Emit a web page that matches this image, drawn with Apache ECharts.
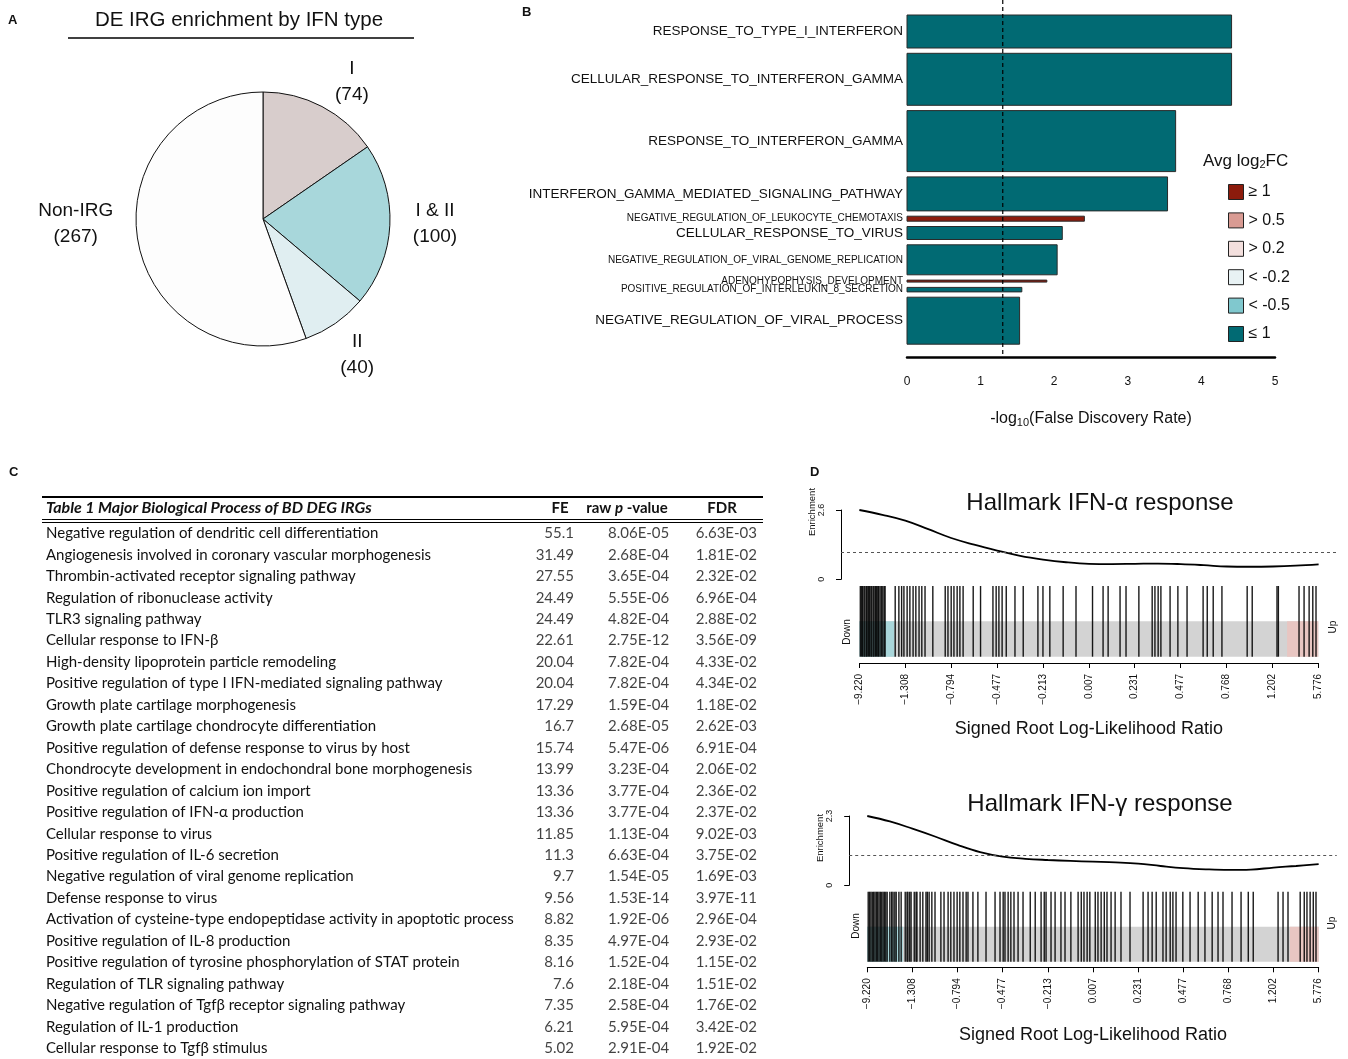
<!DOCTYPE html>
<html>
<head>
<meta charset="utf-8">
<script src="https://cdn.jsdelivr.net/npm/echarts@6/dist/echarts.min.js"></script>
<style>
  html, body { margin: 0; padding: 0; background: #ffffff; }
  #chart { width: 1348px; height: 1059px; }
</style>
</head>
<body>
<div id="chart"></div>
<script>
// ---------- A: DE IRGs split by interferon type ----------
const ifnTypes = ['I', 'I & II', 'II', 'Non-IRG'];
const ifnCounts = [74, 100, 40, 267];

// ---------- B: GO terms, -log10(FDR), bar thickness (overlap size), avg log2FC class ----------
const goTerms = [
  'RESPONSE_TO_TYPE_I_INTERFERON',
  'CELLULAR_RESPONSE_TO_INTERFERON_GAMMA',
  'RESPONSE_TO_INTERFERON_GAMMA',
  'INTERFERON_GAMMA_MEDIATED_SIGNALING_PATHWAY',
  'NEGATIVE_REGULATION_OF_LEUKOCYTE_CHEMOTAXIS',
  'CELLULAR_RESPONSE_TO_VIRUS',
  'NEGATIVE_REGULATION_OF_VIRAL_GENOME_REPLICATION',
  'ADENOHYPOPHYSIS_DEVELOPMENT',
  'POSITIVE_REGULATION_OF_INTERLEUKIN_8_SECRETION',
  'NEGATIVE_REGULATION_OF_VIRAL_PROCESS'
];
const goNegLog10FDR = [4.41, 4.41, 3.65, 3.54, 2.41, 2.11, 2.04, 1.90, 1.56, 1.53];
const goOverlapSize = [33, 52, 61, 34, 5, 13, 30, 2, 4.5, 47];
const goFcClass = ['≤ 1', '≤ 1', '≤ 1', '≤ 1', '≥ 1', '≤ 1', '≤ 1', '≥ 1', '≤ 1', '≤ 1'];
const fcClasses = ['≥ 1', '> 0.5', '> 0.2', '< -0.2', '< -0.5', '≤ 1'];
const fdrCutoff = 0.05;
const fdrTicks = [0, 1, 2, 3, 4, 5];

// ---------- C: Table 1 ----------
const processNames = [
  'Negative regulation of dendritic cell differentiation',
  'Angiogenesis involved in coronary vascular morphogenesis',
  'Thrombin-activated receptor signaling pathway',
  'Regulation of ribonuclease activity',
  'TLR3 signaling pathway',
  'Cellular response to IFN-β',
  'High-density lipoprotein particle remodeling',
  'Positive regulation of type I IFN-mediated signaling pathway',
  'Growth plate cartilage morphogenesis',
  'Growth plate cartilage chondrocyte differentiation',
  'Positive regulation of defense response to virus by host',
  'Chondrocyte development in endochondral bone morphogenesis',
  'Positive regulation of calcium ion import',
  'Positive regulation of IFN-α production',
  'Cellular response to virus',
  'Positive regulation of IL-6 secretion',
  'Negative regulation of viral genome replication',
  'Defense response to virus',
  'Activation of cysteine-type endopeptidase activity in apoptotic process',
  'Positive regulation of IL-8 production',
  'Positive regulation of tyrosine phosphorylation of STAT protein',
  'Regulation of TLR signaling pathway',
  'Negative regulation of Tgfβ receptor signaling pathway',
  'Regulation of IL-1 production',
  'Cellular response to Tgfβ stimulus'
];
const foldEnrichment = [55.1, 31.49, 27.55, 24.49, 24.49, 22.61, 20.04, 20.04, 17.29, 16.7, 15.74, 13.99,
  13.36, 13.36, 11.85, 11.3, 9.7, 9.56, 8.82, 8.35, 8.16, 7.6, 7.35, 6.21, 5.02];
const rawPValue = [8.06e-5, 2.68e-4, 3.65e-4, 5.55e-6, 4.82e-4, 2.75e-12, 7.82e-4, 7.82e-4, 1.59e-4, 2.68e-5,
  5.47e-6, 3.23e-4, 3.77e-4, 3.77e-4, 1.13e-4, 6.63e-4, 1.54e-5, 1.53e-14, 1.92e-6, 4.97e-4, 1.52e-4,
  2.18e-4, 2.58e-4, 5.95e-4, 2.91e-4];
const fdrValue = [6.63e-3, 1.81e-2, 2.32e-2, 6.96e-4, 2.88e-2, 3.56e-9, 4.33e-2, 4.34e-2, 1.18e-2, 2.62e-3,
  6.91e-4, 2.06e-2, 2.36e-2, 2.37e-2, 9.02e-3, 3.75e-2, 1.69e-3, 3.97e-11, 2.96e-4, 2.93e-2, 1.15e-2,
  1.51e-2, 1.76e-2, 3.42e-2, 1.92e-2];

// ---------- D: barcode plots (x = percent rank of signed root LR statistic) ----------
const rankTickLabels = ['\u22129.220', '\u22121.308', '\u22120.794', '\u22120.477', '\u22120.213',
  '0.007', '0.231', '0.477', '0.768', '1.202', '5.776'];

const alphaEnrichment = [[0, 2.60], [5, 2.42], [10, 2.20], [15, 1.88], [20, 1.55], [25, 1.30], [30, 1.08],
  [35, 0.88], [40, 0.74], [45, 0.64], [50, 0.58], [55, 0.57], [60, 0.58], [65, 0.59], [70, 0.57],
  [75, 0.53], [80, 0.48], [85, 0.47], [90, 0.48], [95, 0.51], [100, 0.56]];
const alphaGeneRanks = [0.2, 0.5, 0.7, 1.0, 1.2, 1.5, 1.7, 2.0, 2.2, 2.5, 2.7, 3.0, 3.2, 3.5, 3.7, 4.0,
  4.2, 4.5, 4.8, 5.1, 5.4, 5.6, 7.8, 8.6, 9.2, 9.7, 10.4, 11.0, 11.7, 12.3, 13.0, 13.6, 14.3, 16.0,
  18.7, 19.3, 20.0, 20.6, 21.3, 21.9, 22.6, 24.8, 26.4, 29.1, 29.8, 30.4, 31.1, 32.0, 33.9, 35.7, 38.9,
  40.0, 41.5, 44.4, 47.2, 50.8, 53.1, 54.2, 56.8, 58.1, 60.9, 63.8, 64.4, 65.1, 65.7, 67.7, 69.4, 71.4,
  74.9, 75.8, 77.1, 79.0, 84.5, 85.6, 91.0, 91.3, 95.8, 96.9, 98.0, 98.8, 99.5];
const alphaDownEnd = 7.6;
const alphaUpStart = 93.2;
const alphaMax = 2.6;

const gammaEnrichment = [[0, 2.30], [5, 2.12], [10, 1.88], [15, 1.62], [20, 1.34], [25, 1.10], [30, 0.95],
  [35, 0.88], [40, 0.84], [45, 0.81], [50, 0.785], [55, 0.76], [60, 0.72], [65, 0.64], [70, 0.57],
  [75, 0.53], [80, 0.51], [85, 0.52], [90, 0.59], [95, 0.64], [100, 0.70]];
const gammaGeneRanks = [0.2, 0.5, 0.8, 1.1, 1.4, 1.7, 2.0, 2.3, 2.6, 2.9, 3.2, 3.5, 3.8, 4.1, 4.4, 5.0,
  5.4, 5.7, 6.1, 6.4, 7.0, 7.5, 8.4, 8.8, 9.0, 9.4, 9.7, 10.4, 10.8, 11.0, 11.7, 12.3, 13.0, 13.3, 13.7,
  14.3, 15.0, 16.3, 17.0, 17.9, 18.5, 19.2, 19.9, 20.5, 21.2, 21.9, 22.3, 23.4, 24.5, 26.3, 28.3, 29.4,
  30.1, 30.5, 31.2, 31.8, 32.5, 33.4, 34.5, 36.1, 37.2, 38.5, 39.2, 39.6, 40.7, 41.6, 42.9, 43.8, 45.1,
  46.7, 47.4, 48.0, 48.7, 49.3, 50.5, 51.1, 51.8, 52.5, 53.1, 54.0, 54.9, 56.2, 58.2, 61.1, 62.2, 63.1,
  64.0, 65.5, 66.2, 67.1, 67.7, 68.4, 69.9, 71.5, 73.3, 74.8, 76.4, 77.7, 78.8, 80.8, 82.8, 84.4, 85.5,
  91.0, 92.1, 93.2, 95.9, 96.8, 97.4, 98.1, 98.8, 99.4];
const gammaDownEnd = 7.9;
const gammaUpStart = 93.6;
const gammaMax = 2.3;

// ---------- styling ----------
const SANS = '"Liberation Sans", Arial, Helvetica, sans-serif';
const TABLE_FONT = 'Lato, "Open Sans", sans-serif';
const INK = '#111111';
const fcColors = {
  '≥ 1': '#8c1b0c', '> 0.5': '#d99b93', '> 0.2': '#f3dfdd',
  '< -0.2': '#e8f2f4', '< -0.5': '#80c8ce', '≤ 1': '#016a73'
};
const pieColors = ['#d8cdcc', '#a8d7db', '#e0eef1', '#fdfdfd'];
const smallTermLabels = new Set([
  'NEGATIVE_REGULATION_OF_LEUKOCYTE_CHEMOTAXIS',
  'NEGATIVE_REGULATION_OF_VIRAL_GENOME_REPLICATION',
  'ADENOHYPOPHYSIS_DEVELOPMENT',
  'POSITIVE_REGULATION_OF_INTERLEUKIN_8_SECRETION'
]);
const pieCenter = [263, 219];
const pieRadius = 127;
const barGap = 5.3;          // spacing between bars, in bar-thickness units
const tableCols = { fe: 0.7426, p: 0.8766, fdr: 1.0 };

// ---------- helpers ----------
function sci(v) {
  const parts = v.toExponential(2).split('e');
  const e = parseInt(parts[1], 10);
  return parts[0] + 'E' + (e < 0 ? '-' : '+') + String(Math.abs(e)).padStart(2, '0');
}

// bar spans stacked from the top with a fixed gap
const barSpans = [];
(function () {
  let cursor = 0;
  goOverlapSize.forEach(function (s) {
    barSpans.push([cursor, cursor + s]);
    cursor += s + barGap;
  });
})();
const barTotal = barSpans[barSpans.length - 1][1];

const pieTotal = ifnCounts.reduce((a, b) => a + b, 0);

function barSeries(cls) {
  const data = [];
  goTerms.forEach(function (t, i) {
    if (goFcClass[i] === cls) data.push([goNegLog10FDR[i], barSpans[i][0], barSpans[i][1], i]);
  });
  return {
    type: 'custom', name: cls, xAxisIndex: 0, yAxisIndex: 0, data: data,
    itemStyle: { color: fcColors[cls] },
    encode: { x: 0, y: [1, 2] },
    renderItem: function (params, api) {
      const p0 = api.coord([0, api.value(1)]);
      const p1 = api.coord([api.value(0), api.value(2)]);
      const term = goTerms[api.value(3)];
      const small = smallTermLabels.has(term);
      return {
        type: 'group',
        children: [
          {
            type: 'rect',
            shape: { x: p0[0], y: p0[1], width: p1[0] - p0[0], height: p1[1] - p0[1] },
            style: { fill: fcColors[cls], stroke: '#2a2a2a', lineWidth: 1 }
          },
          {
            type: 'text',
            x: p0[0] - 4, y: (p0[1] + p1[1]) / 2,
            style: {
              text: term, align: 'right', verticalAlign: 'middle',
              fontFamily: SANS, fontSize: small ? 10 : 13.5, fill: INK
            }
          }
        ]
      };
    }
  };
}

function bandSeries(xi, yi, downEnd, upStart) {
  return {
    type: 'custom', xAxisIndex: xi, yAxisIndex: yi, silent: true,
    data: [[0, 100, 0], [0, downEnd, 1], [upStart, 100, 2]],
    encode: { x: [0, 1] },
    renderItem: function (params, api) {
      const a = api.coord([api.value(0), 0.5]);
      const b = api.coord([api.value(1), 0]);
      const fill = ['#d3d3d3', '#a9d6da', '#e8c6c2'][api.value(2)];
      return { type: 'rect', shape: { x: a[0], y: a[1], width: b[0] - a[0], height: b[1] - a[1] }, style: { fill: fill } };
    },
    z: 1
  };
}

function barcodeSeries(xi, yi, ranks) {
  return {
    type: 'custom', xAxisIndex: xi, yAxisIndex: yi, silent: true,
    data: ranks.map(r => [r]),
    encode: { x: 0 },
    renderItem: function (params, api) {
      const top = api.coord([api.value(0), 1]);
      const bot = api.coord([api.value(0), 0]);
      return {
        type: 'line',
        shape: { x1: top[0], y1: top[1], x2: bot[0], y2: bot[1] },
        style: { stroke: 'rgba(0,0,0,0.9)', lineWidth: 1.4 }
      };
    },
    z: 2
  };
}

function curveSeries(xi, yi, pts) {
  return {
    type: 'line', xAxisIndex: xi, yAxisIndex: yi, data: pts, smooth: 0.4,
    showSymbol: false, silent: true,
    lineStyle: { color: '#000', width: 1.8 },
    markLine: {
      silent: true, symbol: 'none', label: { show: false },
      lineStyle: { color: '#555', type: [3, 3], width: 1.2 },
      data: [{ yAxis: 1 }]
    }
  };
}

function tableColumn(anchor, formatter) {
  return {
    type: 'scatter', xAxisIndex: 5, yAxisIndex: 5, symbolSize: 0, silent: true,
    data: processNames.map((n, i) => [anchor, i]),
    label: {
      show: true, position: 'left', distance: 0,
      fontFamily: TABLE_FONT, fontSize: 15, color: INK,
      formatter: p => formatter(p.dataIndex)
    }
  };
}

function enrichmentAxis(gridIndex, maxVal) {
  return {
    gridIndex: gridIndex, type: 'value', min: 0, max: maxVal, interval: maxVal,
    axisLine: { show: true, onZero: false, lineStyle: { color: '#000', width: 1 } },
    axisTick: { show: true, length: 5, lineStyle: { color: '#000' } },
    splitLine: { show: false },
    axisLabel: { rotate: 90, fontSize: 9, margin: 15, color: INK, fontFamily: SANS }
  };
}

function rankAxis(gridIndex, offset, gap) {
  return {
    gridIndex: gridIndex, type: 'value', min: 0, max: 100, interval: 10, offset: offset,
    axisLine: { show: true, onZero: false, lineStyle: { color: '#000', width: 1 } },
    axisTick: { show: true, length: 5, lineStyle: { color: '#000' } },
    splitLine: { show: false },
    axisLabel: { rotate: 90, fontSize: 10, margin: 11, color: INK, fontFamily: SANS,
      formatter: v => rankTickLabels[Math.round(v / 10)] },
    name: 'Signed Root Log-Likelihood Ratio', nameLocation: 'middle', nameGap: gap,
    nameTextStyle: { fontSize: 18, color: INK, fontFamily: SANS }
  };
}

const option = {
  animation: false,
  backgroundColor: '#ffffff',
  textStyle: { fontFamily: SANS },
  grid: [
    { left: 907, top: 0, width: 368, height: 357 },              // B bars
    { left: 841, top: 510, width: 496, height: 69.3 },           // D alpha curve
    { left: 859.4, top: 586, width: 458.9, height: 70.7 },       // D alpha barcode
    { left: 849.2, top: 816, width: 487.5, height: 69.3 },       // D gamma curve
    { left: 867.3, top: 891.7, width: 451.4, height: 70 },       // D gamma barcode
    { left: 46, top: 522.6, width: 711, height: 537.5 }          // C table body
  ],
  xAxis: [
    {
      gridIndex: 0, type: 'value', min: 0, max: 5, interval: 1,
      axisLine: { show: true, onZero: false, lineStyle: { color: '#000', width: 2.5 } },
      axisTick: { show: false }, splitLine: { show: false },
      axisLabel: { margin: 19, fontSize: 12, color: INK, fontFamily: SANS,
        formatter: v => String(fdrTicks[v]) },
      name: '-log{s|10}(False Discovery Rate)', nameLocation: 'middle', nameGap: 52,
      nameTextStyle: { fontSize: 16, color: INK, fontFamily: SANS,
        rich: { s: { fontSize: 11, verticalAlign: 'bottom', padding: [8, 0, 0, 0], fontFamily: SANS, color: INK } } }
    },
    { gridIndex: 1, type: 'value', min: -4, max: 104, show: false },
    rankAxis(2, 6.3, 57),
    { gridIndex: 3, type: 'value', min: -4, max: 104, show: false },
    rankAxis(4, 5.6, 59),
    { gridIndex: 5, type: 'value', min: 0, max: 1, show: false }
  ],
  yAxis: [
    { gridIndex: 0, type: 'value', inverse: true, min: -15, max: 342, show: false },
    enrichmentAxis(1, alphaMax),
    { gridIndex: 2, type: 'value', min: 0, max: 1, show: false },
    enrichmentAxis(3, gammaMax),
    { gridIndex: 4, type: 'value', min: 0, max: 1, show: false },
    {
      gridIndex: 5, type: 'category', data: processNames, inverse: true,
      axisLine: { show: false }, axisTick: { show: false }, splitLine: { show: false },
      axisLabel: { inside: true, margin: 0, align: 'left', fontFamily: TABLE_FONT, fontSize: 15, color: INK }
    }
  ],
  legend: {
    orient: 'vertical', left: 1223, top: 179,
    itemWidth: 15, itemHeight: 15, itemGap: 12.4, icon: 'rect', selectedMode: false,
    textStyle: { fontSize: 16, color: INK, fontFamily: SANS },
    data: fcClasses.map(n => ({ name: n, itemStyle: { color: fcColors[n], borderColor: '#222', borderWidth: 1 } }))
  },
  series: [
    // A: pie
    {
      type: 'pie', center: pieCenter, radius: pieRadius, startAngle: 90, clockwise: true,
      silent: true,
      data: ifnTypes.map((t, i) => ({ name: t, value: ifnCounts[i], itemStyle: { color: pieColors[i] } })),
      itemStyle: { borderColor: '#111', borderWidth: 1 },
      label: {
        show: true, position: 'outside', formatter: '{b}\n({c})',
        fontSize: 19, lineHeight: 26, color: INK, fontFamily: SANS, align: 'center'
      },
      labelLine: { show: false },
      labelLayout: function (params) {
        // labels sit just outside the rim along each slice's mid-angle;
        // labels pointing sideways are kept level with the pie centre
        const i = params.dataIndex;
        let before = 0;
        for (let k = 0; k < i; k++) before += ifnCounts[k];
        const mid = (before + ifnCounts[i] / 2) / pieTotal * Math.PI * 2;
        const s = Math.sin(mid), c = Math.cos(mid);
        const w = params.labelRect.width;
        let x, y;
        if (Math.abs(s) > 0.95) {
          x = pieCenter[0] + 146 * s + (s > 0 ? 1 : -1) * w / 2 + (s > 0 ? 4 : -6);
          y = pieCenter[1] + 5;
        } else {
          const R = c < 0 ? 165 : 155;
          x = pieCenter[0] + R * s + (s > 0.3 && c > 0 ? w / 2 : 0);
          y = pieCenter[1] - R * c;
        }
        return { x: x, y: y, align: 'center', verticalAlign: 'middle' };
      }
    },
    // B: bars grouped by fold-change class
    ...fcClasses.map(barSeries),
    // B: FDR = 0.05 reference
    {
      type: 'line', xAxisIndex: 0, yAxisIndex: 0, silent: true, showSymbol: false,
      data: [[-Math.log10(fdrCutoff), -15], [-Math.log10(fdrCutoff), barTotal + 11]],
      lineStyle: { color: '#000', width: 1.2, type: [4, 3] }
    },
    // D: IFN-alpha
    bandSeries(2, 2, alphaDownEnd, alphaUpStart),
    barcodeSeries(2, 2, alphaGeneRanks),
    curveSeries(1, 1, alphaEnrichment),
    // D: IFN-gamma
    bandSeries(4, 4, gammaDownEnd, gammaUpStart),
    barcodeSeries(4, 4, gammaGeneRanks),
    curveSeries(3, 3, gammaEnrichment),
    // C: table numeric columns
    tableColumn(tableCols.fe, i => String(foldEnrichment[i])),
    tableColumn(tableCols.p, i => sci(rawPValue[i])),
    tableColumn(tableCols.fdr, i => sci(fdrValue[i]))
  ],
  graphic: [
    // panel letters
    { type: 'text', x: 8, y: 20, style: { text: 'A', fontFamily: SANS, fontWeight: 'bold', fontSize: 13, fill: INK, verticalAlign: 'middle' } },
    { type: 'text', x: 522, y: 12, style: { text: 'B', fontFamily: SANS, fontWeight: 'bold', fontSize: 13, fill: INK, verticalAlign: 'middle' } },
    { type: 'text', x: 9, y: 472, style: { text: 'C', fontFamily: SANS, fontWeight: 'bold', fontSize: 13, fill: INK, verticalAlign: 'middle' } },
    { type: 'text', x: 810, y: 472, style: { text: 'D', fontFamily: SANS, fontWeight: 'bold', fontSize: 13, fill: INK, verticalAlign: 'middle' } },

    // A title
    { type: 'text', x: 239, y: 20, style: { text: 'DE IRG enrichment by IFN type', fontFamily: SANS, fontSize: 20.5, fill: INK, align: 'center', verticalAlign: 'middle' } },
    { type: 'line', shape: { x1: 68, y1: 38, x2: 414, y2: 38 }, style: { stroke: '#000', lineWidth: 1.5 } },

    // B legend title
    { type: 'text', x: 1203, y: 161, style: {
      text: 'Avg log{s|2}FC', fontFamily: SANS, fontSize: 17, fill: INK, verticalAlign: 'middle',
      rich: { s: { fontSize: 11, fontFamily: SANS, fill: INK, verticalAlign: 'bottom', padding: [8, 0, 0, 0] } }
    } },

    // C table header and rules
    { type: 'line', shape: { x1: 42, y1: 497, x2: 763, y2: 497 }, style: { stroke: '#000', lineWidth: 2 } },
    { type: 'line', shape: { x1: 42, y1: 519.5, x2: 763, y2: 519.5 }, style: { stroke: '#000', lineWidth: 1.2 } },
    { type: 'line', shape: { x1: 42, y1: 522.5, x2: 763, y2: 522.5 }, style: { stroke: '#000', lineWidth: 1.2 } },
    { type: 'text', x: 46, y: 508, style: { text: 'Table 1 Major Biological Process of BD DEG IRGs', fontFamily: TABLE_FONT, fontWeight: 'bold', fontStyle: 'italic', fontSize: 16, fill: INK, verticalAlign: 'middle' } },
    { type: 'text', x: 560, y: 508, style: { text: 'FE', fontFamily: TABLE_FONT, fontWeight: 'bold', fontSize: 15, fill: INK, align: 'center', verticalAlign: 'middle' } },
    { type: 'text', x: 627, y: 508, style: {
      text: 'raw {i|p} -value', fontFamily: TABLE_FONT, fontWeight: 'bold', fontSize: 15, fill: INK, align: 'center', verticalAlign: 'middle',
      rich: { i: { fontFamily: TABLE_FONT, fontWeight: 'bold', fontStyle: 'italic', fontSize: 15, fill: INK } }
    } },
    { type: 'text', x: 722, y: 508, style: { text: 'FDR', fontFamily: TABLE_FONT, fontWeight: 'bold', fontSize: 15, fill: INK, align: 'center', verticalAlign: 'middle' } },

    // D titles and side annotations
    { type: 'text', x: 1100, y: 503, style: { text: 'Hallmark IFN-α response', fontFamily: SANS, fontSize: 24, fill: INK, align: 'center', verticalAlign: 'middle' } },
    { type: 'text', x: 1100, y: 804, style: { text: 'Hallmark IFN-γ response', fontFamily: SANS, fontSize: 24, fill: INK, align: 'center', verticalAlign: 'middle' } },
    { type: 'text', x: 812, y: 512, rotation: Math.PI / 2, style: { text: 'Enrichment', fontFamily: SANS, fontSize: 9.5, fill: INK, align: 'center', verticalAlign: 'middle' } },
    { type: 'text', x: 820, y: 838, rotation: Math.PI / 2, style: { text: 'Enrichment', fontFamily: SANS, fontSize: 9.5, fill: INK, align: 'center', verticalAlign: 'middle' } },
    { type: 'text', x: 847, y: 632, rotation: Math.PI / 2, style: { text: 'Down', fontFamily: SANS, fontSize: 10, fill: INK, align: 'center', verticalAlign: 'middle' } },
    { type: 'text', x: 1333, y: 627, rotation: Math.PI / 2, style: { text: 'Up', fontFamily: SANS, fontSize: 10, fill: INK, align: 'center', verticalAlign: 'middle' } },
    { type: 'text', x: 856, y: 926, rotation: Math.PI / 2, style: { text: 'Down', fontFamily: SANS, fontSize: 10, fill: INK, align: 'center', verticalAlign: 'middle' } },
    { type: 'text', x: 1332, y: 923, rotation: Math.PI / 2, style: { text: 'Up', fontFamily: SANS, fontSize: 10, fill: INK, align: 'center', verticalAlign: 'middle' } }
  ]
};

const chart = echarts.init(document.getElementById('chart'), null, { renderer: 'canvas' });
chart.setOption(option);
</script>
</body>
</html>
